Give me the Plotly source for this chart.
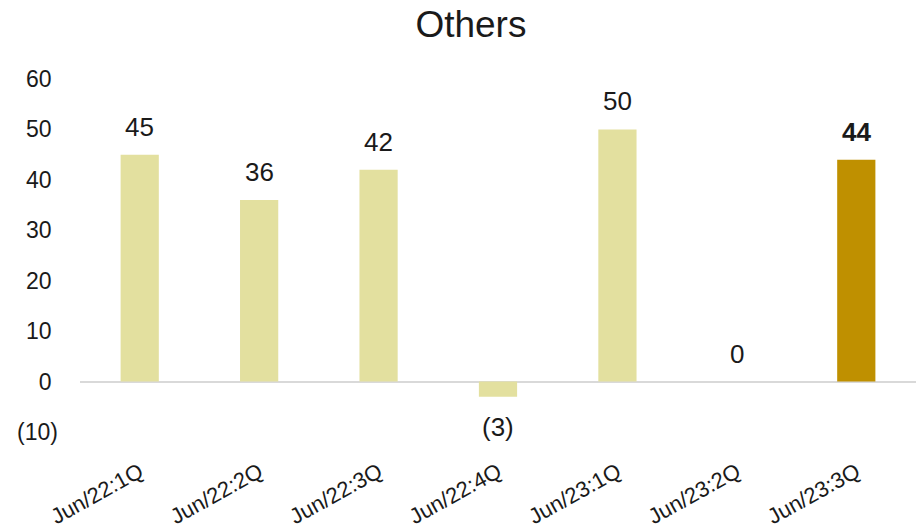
import plotly.graph_objects as go

categories = ["Jun/22:1Q", "Jun/22:2Q", "Jun/22:3Q", "Jun/22:4Q",
              "Jun/23:1Q", "Jun/23:2Q", "Jun/23:3Q"]
values = [45, 36, 42, -3, 50, 0, 44]
tick_vals = [-10, 0, 10, 20, 30, 40, 50, 60]


def fmt(v):
    return f"({abs(v)})" if v < 0 else str(v)


# Accounting style: positive numbers padded where the closing paren would sit
tick_text = [fmt(v) if v < 0 else fmt(v) + "\u00a0" for v in tick_vals]

LIGHT = "#E3E09F"
DARK = "#BF9000"
colors = [LIGHT] * (len(values) - 1) + [DARK]

fig = go.Figure(go.Bar(
    x=categories, y=values, marker_color=colors, marker_line_width=0,
    hoverinfo="skip",
))

for i, (c, v) in enumerate(zip(categories, values)):
    last = i == len(values) - 1
    label = f"<b>{fmt(v)}</b>" if last else fmt(v)
    fig.add_annotation(
        x=c, y=v, text=label, showarrow=False,
        yanchor="top" if v < 0 else "bottom",
        yshift=-13 if v < 0 else 11,
        font=dict(size=26, color="#1a1a1a"),
    )

fig.update_layout(
    width=918, height=531,
    margin=dict(l=80, r=2, t=79, b=99),
    paper_bgcolor="white", plot_bgcolor="white",
    font=dict(family="Liberation Sans, Arial, sans-serif", color="#1a1a1a"),
    title=dict(text="Others", x=0.513, xanchor="center", y=0.955, yanchor="middle",
               font=dict(size=37, color="#1a1a1a")),
    bargap=0.68,
    showlegend=False,
)
fig.update_yaxes(
    range=[-10, 60], tickvals=tick_vals, ticktext=tick_text, automargin=False,
    showgrid=False, zeroline=True, zerolinecolor="#d9d9d9", zerolinewidth=2,
    showline=False, ticks="", tickfont=dict(size=23), ticklabelstandoff=21,
)
fig.update_xaxes(
    showgrid=False, showline=False, ticks="", tickangle=-29, automargin=False,
    tickfont=dict(size=22), ticklabelstandoff=22,
)

fig.write_html("out.html")
